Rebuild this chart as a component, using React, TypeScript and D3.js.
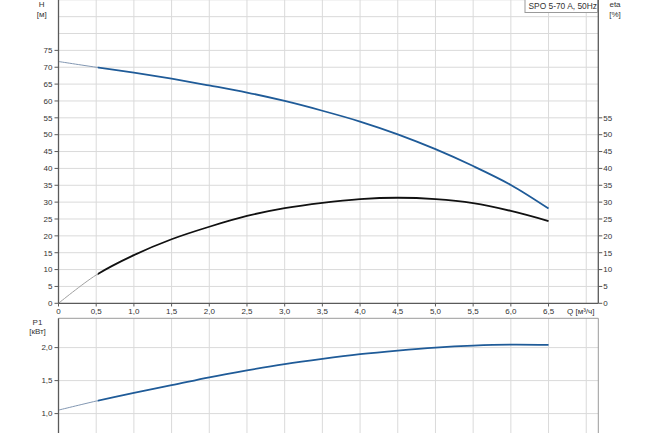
import React from "react";
import * as d3 from "d3";

const flowQ = [0, 0.5, 1.0, 1.5, 2.0, 2.5, 3.0, 3.5, 4.0, 4.5, 5.0, 5.5, 6.0, 6.5];
const headH = [71.7, 70.0, 68.4, 66.6, 64.6, 62.5, 60.0, 57.1, 53.9, 50.1, 45.7, 40.7, 35.1, 28.1];
const effEta = [0, 8.4, 14.3, 19.0, 22.7, 25.9, 28.2, 29.8, 30.9, 31.3, 30.9, 29.7, 27.4, 24.4];
const powerP1 = [1.053, 1.19, 1.315, 1.43, 1.55, 1.655, 1.75, 1.83, 1.9, 1.955, 2.0, 2.03, 2.045, 2.04];

const xTicks = [0, 0.5, 1.0, 1.5, 2.0, 2.5, 3.0, 3.5, 4.0, 4.5, 5.0, 5.5, 6.0, 6.5];
const xGrid = [0.5, 1.0, 1.5, 2.0, 2.5, 3.0, 3.5, 4.0, 4.5, 5.0, 5.5, 6.0, 6.5, 7.0];
const hTicks = [0, 5, 10, 15, 20, 25, 30, 35, 40, 45, 50, 55, 60, 65, 70, 75];
const hGrid = [5, 10, 15, 20, 25, 30, 35, 40, 45, 50, 55, 60, 65, 70, 75, 80, 85, 90];
const etaTicks = [0, 5, 10, 15, 20, 25, 30, 35, 40, 45, 50, 55];
const pTicks = [1.0, 1.5, 2.0];
const pGrid = [0.5, 1.0, 1.5, 2.0];

const title = "SPO 5-70 A, 50Hz";

const FONT = "'Liberation Sans', Arial, sans-serif";
const BLUE = "#1f5b98";
const AXIS = "#5a5a5a";
const GRID = "#dadada";

const fmt = (v: number) => (v === 0 ? "0" : v.toFixed(1).replace(".", ","));

export default function App() {
  const left = 58.5;
  const right = 598.3;
  const x = d3.scaleLinear().domain([0, 7.16]).range([left, right]);
  const yH = d3.scaleLinear().domain([0, 90]).range([303.3, -0.2]);
  const topP = 318.3;
  const yP = d3.scaleLinear().domain([1, 2]).range([413.6, 347.6]);

  const pts = (ys: number[]) => flowQ.map((q, i) => [q, ys[i]] as [number, number]);

  const lineH = d3.line<[number, number]>().x((d) => x(d[0])).y((d) => yH(d[1])).curve(d3.curveCatmullRom.alpha(0.5));
  const lineP = d3.line<[number, number]>().x((d) => x(d[0])).y((d) => yP(d[1])).curve(d3.curveCatmullRom.alpha(0.5));

  const dH = lineH(pts(headH)) || "";
  const dE = lineH(pts(effEta)) || "";
  const dP = lineP(pts(powerP1)) || "";

  const xHalf = x(0.52);

  return (
    <svg
      width={650}
      height={433}
      style={{ position: "absolute", left: 0, top: 0, background: "#fff" }}
      fontFamily={FONT}
    >
      <defs>
        <clipPath id="thinClip">
          <rect x={0} y={-10} width={xHalf} height={460} />
        </clipPath>
        <clipPath id="thickClip">
          <rect x={xHalf} y={-10} width={650} height={460} />
        </clipPath>
        <clipPath id="topPlot">
          <rect x={left} y={-1} width={right - left} height={304.3} />
        </clipPath>
        <clipPath id="botPlot">
          <rect x={left} y={topP} width={right - left} height={120} />
        </clipPath>
      </defs>
      <rect x={0} y={0} width={650} height={433} fill="#fff" />

      {/* top chart grid */}
      <g stroke={GRID} strokeWidth={1}>
        {xGrid.map((q) => (
          <line key={"vx" + q} x1={x(q)} x2={x(q)} y1={0} y2={303.3} />
        ))}
        {hGrid.map((v) => (
          <line key={"hg" + v} x1={left} x2={right} y1={yH(v)} y2={yH(v)} />
        ))}
      </g>

      {/* bottom chart grid */}
      <g stroke={GRID} strokeWidth={1}>
        {xGrid.map((q) => (
          <line key={"bvx" + q} x1={x(q)} x2={x(q)} y1={topP} y2={433} />
        ))}
        {pGrid.map((v) => (
          <line key={"pg" + v} x1={left} x2={right} y1={yP(v)} y2={yP(v)} />
        ))}
      </g>

      {/* curves top */}
      <g clipPath="url(#topPlot)" fill="none">
        <g clipPath="url(#thinClip)">
          <path d={dH} stroke="#8297b2" strokeWidth={1} />
          <path d={dE} stroke="#a0a0a0" strokeWidth={1} />
        </g>
        <g clipPath="url(#thickClip)">
          <path d={dH} stroke={BLUE} strokeWidth={1.8} />
          <path d={dE} stroke="#111" strokeWidth={1.8} />
        </g>
      </g>

      {/* curves bottom */}
      <g clipPath="url(#botPlot)" fill="none">
        <g clipPath="url(#thinClip)">
          <path d={dP} stroke="#8297b2" strokeWidth={1} />
        </g>
        <g clipPath="url(#thickClip)">
          <path d={dP} stroke={BLUE} strokeWidth={1.8} />
        </g>
      </g>

      {/* top axes */}
      <g stroke={AXIS} strokeWidth={1.3}>
        <line x1={left} x2={left} y1={0} y2={303.3} />
        <line x1={right} x2={right} y1={0} y2={303.3} />
        <line x1={left} x2={right} y1={303.3} y2={303.3} />
        {hTicks.map((v) => (
          <line key={"ht" + v} x1={left - 4} x2={left} y1={yH(v)} y2={yH(v)} strokeWidth={1} />
        ))}
        {etaTicks.map((v) => (
          <line key={"et" + v} x1={right} x2={right + 4} y1={yH(v)} y2={yH(v)} strokeWidth={1} />
        ))}
        {xTicks.map((q) => (
          <line key={"xt" + q} x1={x(q)} x2={x(q)} y1={303.3} y2={306.5} strokeWidth={1} />
        ))}
      </g>

      {/* bottom axes/box */}
      <g fill="none">
        <line x1={left} x2={right} y1={topP} y2={topP} stroke="#9a9a9a" strokeWidth={1} />
        <line x1={right} x2={right} y1={topP} y2={433} stroke="#9a9a9a" strokeWidth={1} />
        <line x1={left} x2={left} y1={topP} y2={433} stroke={AXIS} strokeWidth={1.3} />
        {pTicks.map((v) => (
          <line key={"pt" + v} x1={left - 4} x2={left} y1={yP(v)} y2={yP(v)} stroke={AXIS} strokeWidth={1} />
        ))}
      </g>

      {/* labels */}
      <g fontSize={8} fill="#333">
        {hTicks.map((v) => (
          <text key={"hl" + v} x={left - 6} y={yH(v) + 2.8} textAnchor="end">
            {v}
          </text>
        ))}
        {etaTicks.map((v) => (
          <text key={"el" + v} x={right + 5} y={yH(v) + 2.8} textAnchor="start">
            {v}
          </text>
        ))}
        {xTicks.map((q) => (
          <text key={"xl" + q} x={x(q)} y={314} textAnchor="middle">
            {fmt(q)}
          </text>
        ))}
        {pTicks.map((v) => (
          <text key={"pl" + v} x={left - 6} y={yP(v) + 2.8} textAnchor="end">
            {v.toFixed(1).replace(".", ",")}
          </text>
        ))}
        <text x={567} y={314}>Q [м³/ч]</text>
        <text x={41.7} y={7} textAnchor="middle">H</text>
        <text x={41.7} y={17} textAnchor="middle">[м]</text>
        <text x={615} y={7} textAnchor="middle">eta</text>
        <text x={615} y={17} textAnchor="middle">[%]</text>
        <text x={37.5} y={324.5} textAnchor="middle">P1</text>
        <text x={37.5} y={333.5} textAnchor="middle">[кВт]</text>
      </g>

      {/* title box */}
      <rect x={525} y={-1} width={72.5} height={13.5} fill="#fff" stroke="#9a9a9a" strokeWidth={1} />
      <text x={528.5} y={9} fontSize={8.4} fill="#333">
        {title}
      </text>
    </svg>
  );
}
